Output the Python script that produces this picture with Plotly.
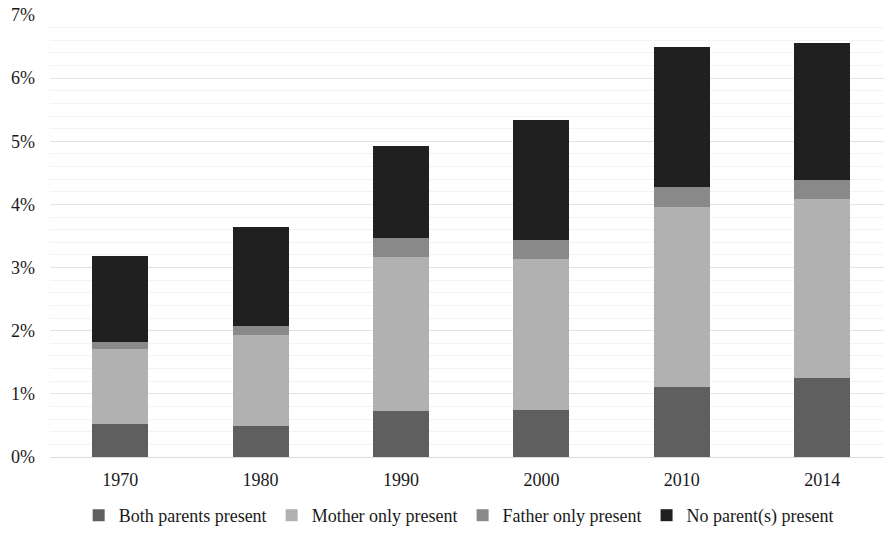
import plotly.graph_objects as go

years = ["1970", "1980", "1990", "2000", "2010", "2014"]
both_parents = [0.53, 0.49, 0.725, 0.74, 1.11, 1.25]
mother_only = [1.175, 1.45, 2.45, 2.40, 2.85, 2.83]
father_only = [0.12, 0.14, 0.29, 0.30, 0.31, 0.31]
no_parent = [1.365, 1.56, 1.455, 1.89, 2.22, 2.16]

series_names = ["Both parents present", "Mother only present",
                "Father only present", "No parent(s) present"]
series_values = [both_parents, mother_only, father_only, no_parent]
series_colors = ["#5f5f5f", "#b1b1b1", "#898989", "#202020"]

y_ticks = [0, 1, 2, 3, 4, 5, 6, 7]

font_family = "Liberation Serif, Times New Roman, serif"

fig = go.Figure()
for name, vals, col in zip(series_names, series_values, series_colors):
    fig.add_trace(go.Bar(
        x=years, y=vals, name=name,
        marker=dict(color=col, line=dict(width=0)),
    ))

fig.update_layout(
    barmode="stack",
    bargap=0.6,
    width=884, height=534,
    margin=dict(l=50, r=0, t=15, b=75),
    plot_bgcolor="white",
    paper_bgcolor="white",
    font=dict(family=font_family, size=18, color="#1a1a1a"),
    showlegend=True,
    legend=dict(
        orientation="h",
        x=0.49, xanchor="center",
        y=-0.133, yanchor="middle",
        font=dict(family=font_family, size=18, color="#1a1a1a"),
        traceorder="normal",
        itemwidth=30,
    ),
)

fig.update_xaxes(
    type="category",
    range=[-0.5, 5.44],
    showgrid=False,
    showline=False,
    zeroline=False,
    ticks="",
    ticklabelstandoff=10,
    tickfont=dict(family=font_family, size=18, color="#1a1a1a"),
)

fig.update_yaxes(
    range=[0, 7],
    tickvals=y_ticks,
    ticktext=[f"{v}%" for v in y_ticks],
    showgrid=True,
    gridcolor="#e3e3e3",
    gridwidth=1,
    zeroline=True,
    zerolinecolor="#dcdcdc",
    zerolinewidth=1,
    showline=False,
    ticks="",
    ticklabelstandoff=14,
    tickfont=dict(family=font_family, size=18, color="#1a1a1a"),
    minor=dict(dtick=0.2, showgrid=True, gridcolor="#f3f3f3", gridwidth=1),
)

fig.write_html("out.html")
